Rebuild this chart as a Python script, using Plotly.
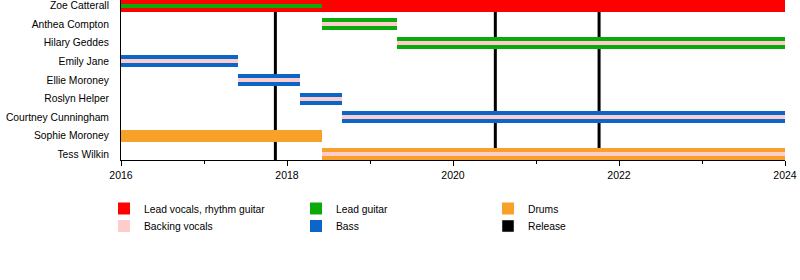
import plotly.graph_objects as go

members = ["Zoe Catterall", "Anthea Compton", "Hilary Geddes", "Emily Jane", "Ellie Moroney",
           "Roslyn Helper", "Courtney Cunningham", "Sophie Moroney", "Tess Wilkin"]

# role periods: (member index, start year, end year)
lead_vocals = [(0, 2016.0, 2024.0)]
lead_guitar = [(0, 2016.0, 2018.42), (1, 2018.42, 2019.33), (2, 2019.33, 2024.0)]
lead_guitar_secondary = [True, False, False]
drums = [(7, 2016.0, 2018.42), (8, 2018.42, 2024.0)]
bass = [(3, 2016.0, 2017.41), (4, 2017.41, 2018.16), (5, 2018.16, 2018.66), (6, 2018.66, 2024.0)]
backing_vocals = [(1, 2018.42, 2019.33), (2, 2019.33, 2024.0), (3, 2016.0, 2017.41),
                  (4, 2017.41, 2018.16), (5, 2018.16, 2018.66), (6, 2018.66, 2024.0),
                  (8, 2018.42, 2024.0)]
releases = [2017.86, 2020.51, 2021.76]

MAIN_W = 0.64
STRIPE_W = 0.21

C_RED = "#ff0000"
C_GREEN = "#0aaa0a"
C_ORANGE = "#f8a12a"
C_BLUE = "#0a66c8"
C_PINK = "#ffcccc"
C_BLACK = "#000000"

FONT = "Liberation Sans, Arial, sans-serif"

# legend grid (pixels) -> converted to paper coords
PL, PW, PT, PH = 121, 664, 0, 160
col_px = [118, 310, 502]
row_px = [208.5, 226]

def lx(px):
    return (px - PL) / PW

def ly(py):
    return (PT + PH - py) / PH

fig = go.Figure()

def add_role(name, periods, color, legend_id, widths=None):
    fig.add_trace(go.Bar(
        name=name, orientation="h",
        y=[p[0] for p in periods],
        base=[p[1] for p in periods],
        x=[p[2] - p[1] for p in periods],
        width=widths if widths is not None else [MAIN_W] * len(periods),
        marker=dict(color=color, line=dict(width=0)),
        legend=legend_id, hoverinfo="skip",
    ))

add_role("Lead vocals, rhythm guitar", lead_vocals, C_RED, "legend")
add_role("Lead guitar", lead_guitar, C_GREEN, "legend2",
         [STRIPE_W if s else MAIN_W for s in lead_guitar_secondary])
add_role("Drums", drums, C_ORANGE, "legend3")
add_role("Bass", bass, C_BLUE, "legend5")
add_role("Backing vocals", backing_vocals, C_PINK, "legend4", [STRIPE_W] * len(backing_vocals))
fig.add_trace(go.Bar(name="Release", orientation="h", x=[None], y=[None],
                     marker=dict(color=C_BLACK), legend="legend6"))

for r in releases:
    fig.add_shape(type="line", xref="x", yref="paper", x0=r, x1=r, y0=0, y1=1,
                  line=dict(color=C_BLACK, width=3), layer="below")

OFF = 14  # legend box left -> square left offset (px)
legends = {}
ids = ["legend", "legend2", "legend3", "legend4", "legend5", "legend6"]
for i, lid in enumerate(ids):
    r, c = divmod(i, 3)
    legends[lid] = dict(x=lx(col_px[c] - OFF), xanchor="left", y=ly(row_px[r]), yanchor="middle",
                        orientation="v", font=dict(size=10.3, family=FONT),
                        bgcolor="rgba(0,0,0,0)", borderwidth=0, itemwidth=30)

fig.update_layout(
    width=800, height=280,
    margin=dict(l=PL, r=800 - PL - PW, t=PT, b=280 - PT - PH),
    barmode="overlay",
    plot_bgcolor="white", paper_bgcolor="white",
    font=dict(family=FONT, size=10, color="#000000"),
    showlegend=True,
    bargap=0,
    **legends,
)
fig.update_xaxes(range=[2016, 2024], tickvals=[2016, 2018, 2020, 2022, 2024],
                 ticktext=["2016", "2018", "2020", "2022", "2024"],
                 showline=True, linecolor="black", linewidth=1,
                 ticks="outside", ticklen=5, tickcolor="black",
                 minor=dict(tickvals=[2017, 2019, 2021, 2023], ticks="outside", ticklen=3, tickcolor="black"),
                 showgrid=False, zeroline=False, tickfont=dict(size=10.5))
fig.update_yaxes(range=[8.3, -0.3], tickvals=list(range(len(members))), ticktext=members,
                 showline=True, linecolor="black", linewidth=1, ticks="",
                 ticklabelstandoff=9, showgrid=False, zeroline=False,
                 ticklabeloverflow="allow",
                 tickfont=dict(size=10.3))

fig.write_html("out.html")
